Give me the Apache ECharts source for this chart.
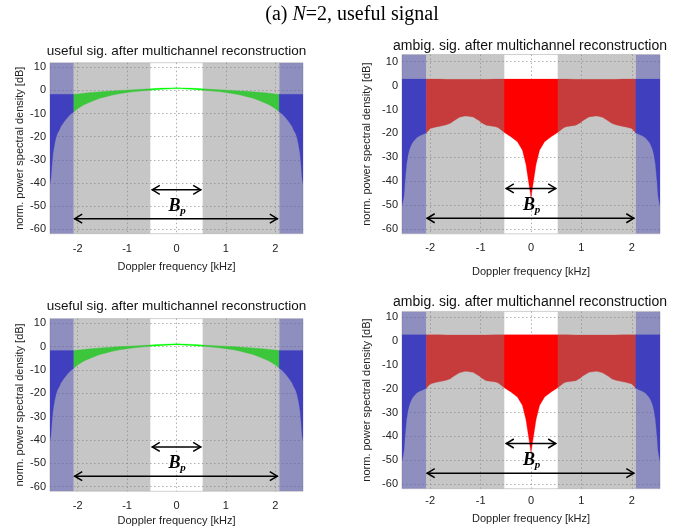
<!DOCTYPE html>
<html>
<head>
<meta charset="utf-8">
<script src="https://cdn.jsdelivr.net/npm/echarts@6/dist/echarts.min.js"></script>
<style>
  html, body { margin: 0; padding: 0; background: #fff; }
  #chart { width: 694px; height: 532px; }
</style>
</head>
<body>
<div id="chart"></div>
<script>
// Doppler frequency samples [kHz]
const freq = [-2.56,-2.54,-2.52,-2.50,-2.47,-2.44,-2.41,-2.37,-2.34,-2.27,-2.21,-2.14,-2.08,-2.00,-1.88,-1.80,-1.68,-1.60,-1.55,-1.42,-1.33,-1.29,-1.15,-1.02,-0.99,-0.89,-0.70,-0.65,-0.53,-0.40,-0.27,-0.17,-0.10,-0.05,-0.02,0,
              0.02,0.05,0.10,0.17,0.27,0.40,0.53,0.65,0.70,0.89,0.99,1.02,1.15,1.29,1.33,1.42,1.55,1.60,1.68,1.80,1.88,2.00,2.08,2.14,2.21,2.27,2.34,2.37,2.41,2.44,2.47,2.50,2.52,2.54,2.56];

// useful signal: upper and lower envelope of the reconstructed spectrum [dB]
const usefulUpper = [-1.7,-1.7,-1.7,-1.7,-1.7,-1.7,-1.7,-1.7,-1.7,-1.7,-1.7,-1.7,-1.7,-1.5,-1.2,-1.0,-0.8,-0.7,-0.6,-0.4,-0.3,-0.2,0.0,0.1,0.2,0.3,0.5,0.6,0.7,0.9,1.0,1.1,1.1,1.2,1.2,1.2,
                     1.2,1.2,1.1,1.1,1.0,0.9,0.7,0.6,0.5,0.3,0.2,0.1,0.0,-0.2,-0.3,-0.4,-0.6,-0.7,-0.8,-1.0,-1.2,-1.5,-1.7,-1.7,-1.7,-1.7,-1.7,-1.7,-1.7,-1.7,-1.7,-1.7,-1.7,-1.7,-1.7];
const usefulLower = [-40,-38,-32,-27.5,-23.5,-20.6,-18.6,-17.1,-15.6,-13.4,-11.8,-10.2,-9.3,-7.9,-6.3,-5.5,-4.5,-3.8,-3.4,-2.7,-2.2,-2.0,-1.4,-1.0,-0.9,-0.6,-0.2,-0.1,0.1,0.3,0.5,0.6,0.7,0.7,0.7,0.7,
                     0.7,0.7,0.7,0.6,0.5,0.3,0.1,-0.1,-0.2,-0.6,-0.9,-1.0,-1.4,-2.0,-2.2,-2.7,-3.4,-3.8,-4.5,-5.5,-6.3,-7.9,-9.3,-10.2,-11.8,-13.4,-15.6,-17.1,-18.6,-20.6,-23.5,-27.5,-32,-38,-40];

// ambiguous signal: upper and lower envelope [dB]
const ambigUpper = [2.7,2.7,2.7,2.7,2.7,2.7,2.7,2.7,2.7,2.7,2.7,2.7,2.7,2.7,2.7,2.7,2.6,2.6,2.6,2.6,2.6,2.6,2.6,2.6,2.6,2.6,2.7,2.7,2.7,2.7,2.7,2.7,2.7,2.7,2.7,2.7,
                    2.7,2.7,2.7,2.7,2.7,2.7,2.7,2.7,2.7,2.6,2.6,2.6,2.6,2.6,2.6,2.6,2.6,2.6,2.6,2.7,2.7,2.7,2.7,2.7,2.7,2.7,2.7,2.7,2.7,2.7,2.7,2.7,2.7,2.7,2.7];
const ambigLower = [-50,-48.5,-46,-40,-33,-29,-26.5,-24.5,-23.5,-21.8,-21.0,-20.4,-19.8,-18.0,-17.3,-17.0,-16.4,-15.8,-15.0,-13.3,-12.8,-12.7,-13.1,-14.8,-15.4,-16.6,-17.2,-17.6,-19.6,-21.4,-23.5,-27,-33,-40,-44,-47,
                    -44,-40,-33,-27,-23.5,-21.4,-19.6,-17.6,-17.2,-16.6,-15.4,-14.8,-13.1,-12.7,-12.8,-13.3,-15.0,-15.8,-16.4,-17.0,-17.3,-18.0,-19.8,-20.4,-21.0,-21.8,-23.5,-24.5,-26.5,-29,-33,-40,-46,-48.5,-50];

// axis ticks
const xTicks = [-2, -1, 0, 1, 2];
const yTicks = [-60, -50, -40, -30, -20, -10, 0, 10];

// spectral regions covered by shading: [from, to] kHz and kind
const shadeBands = [[-2.56, -2.08], [-2.08, -0.53], [0.53, 2.08], [2.08, 2.56]];
const shadeKinds = ['outer', 'partial', 'partial', 'outer'];

// fill regions: outside / inside the processed band
const fillZones = [[-2.56, -2.08], [-2.08, 2.08], [2.08, 2.56]];
const fillKinds = ['outer', 'inner', 'outer'];

// bandwidth arrows: [from kHz, to kHz, level dB]
const arrows = [[-0.5, 0.5, -43], [-2.07, 2.05, -55.5]];
// B_p label position [kHz, dB]
const bpLabel = [[0, -50]];

const Y_MIN = -62;
const X_MIN = -2.56, X_MAX = 2.56;
const SANS = '"Liberation Sans", Arial, sans-serif';
const SERIF = '"Liberation Serif", "Times New Roman", serif';

const panels = [
  { name: 'useful sig. after multichannel reconstruction', upper: usefulUpper, lower: usefulLower, innerColor: '#00ff00',
    grid: { left: 50, top: 62.7, width: 253, height: 171 }, yMax: 12, titleXY: [176.5, 51], titleSize: 13.5,
    xMargin: 10, xNameGap: 28, yNameGap: 25 },
  { name: 'ambig. sig. after multichannel reconstruction', upper: ambigUpper, lower: ambigLower, innerColor: '#ff0000',
    grid: { left: 402, top: 54.5, width: 258, height: 179.3 }, yMax: 13, titleXY: [530, 46], titleSize: 14,
    xMargin: 8.5, xNameGap: 32.5, yNameGap: 30 },
  { name: 'useful sig. after multichannel reconstruction', upper: usefulUpper, lower: usefulLower, innerColor: '#00ff00',
    grid: { left: 50, top: 318.6, width: 253, height: 172.7 }, yMax: 12, titleXY: [176.5, 306.7], titleSize: 13.5,
    xMargin: 8.7, xNameGap: 24.5, yNameGap: 25 },
  { name: 'ambig. sig. after multichannel reconstruction', upper: ambigUpper, lower: ambigLower, innerColor: '#ff0000',
    grid: { left: 402, top: 311.4, width: 258, height: 177.3 }, yMax: 12.5, titleXY: [530, 301.7], titleSize: 14,
    xMargin: 6.5, xNameGap: 25, yNameGap: 30 }
];

const gridLine = { show: true, lineStyle: { color: '#9a9a9a', width: 0.8, type: [1.5, 2.5] } };
const tickText = { fontFamily: SANS, fontSize: 11, color: '#222' };
const nameText = { fontFamily: SANS, fontSize: 11, color: '#222' };

function inZone(f, z) { return f >= z[0] - 1e-9 && f <= z[1] + 1e-9; }

function fillRenderer(p) {
  return function (params, api) {
    const zone = fillZones[params.dataIndex];
    const pts = [];
    for (let i = 0; i < freq.length; i++) if (inZone(freq[i], zone)) pts.push(api.coord([freq[i], p.upper[i]]));
    for (let i = freq.length - 1; i >= 0; i--) if (inZone(freq[i], zone)) pts.push(api.coord([freq[i], p.lower[i]]));
    const color = fillKinds[params.dataIndex] === 'outer' ? '#0000ff' : p.innerColor;
    return { type: 'polygon', shape: { points: pts }, style: { fill: color, stroke: color, lineWidth: 0.3 } };
  };
}

function shadeRenderer(params, api) {
  const b = shadeBands[params.dataIndex];
  const cs = params.coordSys;
  const x0 = api.coord([b[0], 0])[0];
  const x1 = api.coord([b[1], 0])[0];
  const fill = shadeKinds[params.dataIndex] === 'outer' ? 'rgba(93,93,162,0.69)' : 'rgba(130,130,130,0.46)';
  return { type: 'rect', shape: { x: x0, y: cs.y, width: x1 - x0, height: cs.height }, style: { fill: fill } };
}

function arrowRenderer(params, api) {
  const a = arrows[params.dataIndex];
  const p1 = api.coord([a[0], a[2]]);
  const p2 = api.coord([a[1], a[2]]);
  const hl = 8, hw = 4.5;
  const st = { stroke: '#000', lineWidth: 1.5, fill: null };
  return {
    type: 'group',
    children: [
      { type: 'line', shape: { x1: p1[0], y1: p1[1], x2: p2[0], y2: p2[1] }, style: st },
      { type: 'polyline', shape: { points: [[p1[0] + hl, p1[1] - hw], [p1[0] + 0.5, p1[1]], [p1[0] + hl, p1[1] + hw]] }, style: st },
      { type: 'polyline', shape: { points: [[p2[0] - hl, p2[1] - hw], [p2[0] - 0.5, p2[1]], [p2[0] - hl, p2[1] + hw]] }, style: st }
    ]
  };
}

function bpRenderer(params, api) {
  const c = api.coord(bpLabel[params.dataIndex]);
  return {
    type: 'group',
    children: [
      { type: 'text', x: c[0] - 2, y: c[1], style: { text: 'B', font: 'italic bold 18px ' + SERIF, fill: '#000', textAlign: 'center', textVerticalAlign: 'middle' } },
      { type: 'text', x: c[0] + 6.5, y: c[1] + 5, style: { text: 'p', font: 'italic bold 11px ' + SERIF, fill: '#000', textAlign: 'center', textVerticalAlign: 'middle' } }
    ]
  };
}

const grids = [], xAxes = [], yAxes = [], series = [], graphics = [];

graphics.push({
  type: 'text', x: 352, y: 15,
  style: {
    text: '{r|(a) }{i|N}{r|=2, useful signal}',
    rich: {
      r: { fontFamily: SERIF, fontSize: 20, fill: '#000' },
      i: { fontFamily: SERIF, fontSize: 20, fontStyle: 'italic', fill: '#000' }
    },
    textAlign: 'center', textVerticalAlign: 'middle'
  }
});

panels.forEach((p, k) => {
  grids.push(Object.assign({ show: true, backgroundColor: '#fff', borderColor: '#b0b0b0', borderWidth: 0.6 }, p.grid));
  xAxes.push({
    gridIndex: k, type: 'value', min: X_MIN, max: X_MAX,
    axisLine: { show: false },
    axisTick: { show: false, customValues: xTicks },
    axisLabel: Object.assign({ customValues: xTicks, margin: p.xMargin, formatter: v => String(v) }, tickText),
    splitLine: gridLine,
    name: 'Doppler frequency [kHz]', nameLocation: 'middle', nameGap: p.xNameGap, nameTextStyle: nameText
  });
  yAxes.push({
    gridIndex: k, type: 'value', min: Y_MIN, max: p.yMax,
    axisLine: { show: false },
    axisTick: { show: false, customValues: yTicks },
    axisLabel: Object.assign({ customValues: yTicks, margin: 4, formatter: v => String(v) }, tickText),
    splitLine: gridLine,
    name: 'norm. power spectral density [dB]', nameLocation: 'middle', nameGap: p.yNameGap, nameTextStyle: nameText
  });
  series.push({
    type: 'custom', xAxisIndex: k, yAxisIndex: k, z: 2, clip: true, silent: true,
    data: fillZones, encode: { x: [0, 1] },
    renderItem: fillRenderer(p)
  });
  series.push({
    type: 'custom', xAxisIndex: k, yAxisIndex: k, z: 3, clip: true, silent: true,
    data: shadeBands, encode: { x: [0, 1] },
    renderItem: shadeRenderer
  });
  series.push({
    type: 'custom', xAxisIndex: k, yAxisIndex: k, z: 4, silent: true,
    data: arrows, encode: { x: [0, 1], y: 2 },
    renderItem: arrowRenderer
  });
  series.push({
    type: 'custom', xAxisIndex: k, yAxisIndex: k, z: 4, silent: true,
    data: bpLabel, encode: { x: 0, y: 1 },
    renderItem: bpRenderer
  });
  graphics.push({
    type: 'text', x: p.titleXY[0], y: p.titleXY[1],
    style: { text: p.name, font: p.titleSize + 'px ' + SANS, fill: '#111', textAlign: 'center', textVerticalAlign: 'middle' }
  });
});

const chart = echarts.init(document.getElementById('chart'), null, { renderer: 'canvas' });
chart.setOption({
  animation: false,
  backgroundColor: '#fff',
  grid: grids,
  xAxis: xAxes,
  yAxis: yAxes,
  series: series,
  graphic: graphics
});
</script>
</body>
</html>
